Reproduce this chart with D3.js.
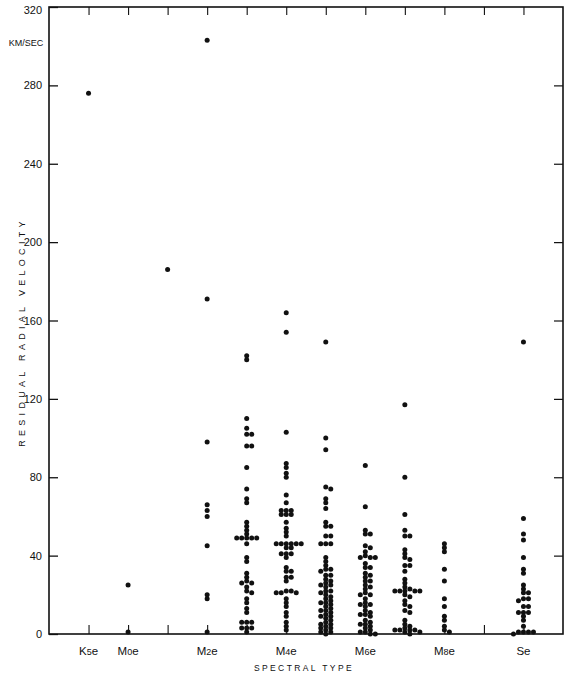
<!DOCTYPE html>
<html>
<head>
<meta charset="utf-8">
<script src="https://cdn.jsdelivr.net/npm/d3@7"></script>
<style>
  body { margin: 0; background: #fff; }
  text { font-family: 'Liberation Sans', Arial, sans-serif; fill: #111; }
</style>
</head>
<body>
<div id="chart"></div>
<script>
// spectral type slots along the x axis, blank label = unlabeled slot
var types = ['K5e', 'M0e', 'M1e', 'M2e', 'M3e', 'M4e', 'M5e', 'M6e', 'M7e', 'M8e', 'M9e', 'Se'];
var typeLabels = ['K|5|e', 'M|0|e', '', 'M|2|e', '', 'M|4|e', '', 'M|6|e', '', 'M|8|e', '', 'Se'];
var yTicks = [0, 40, 80, 120, 160, 200, 240, 280, 320];

// residual radial velocities (km/sec), one value per star
var k5e = [276];
var m0e = [25, 1];
var m1e = [186];
var m2e = [303, 171, 98, 66, 63, 60, 45, 20, 18, 1];
var m3e = [142, 140, 110, 105, 102, 102, 96, 96, 85, 74, 69, 67, 57, 55, 53, 51,
  49, 49, 49, 49, 49, 46, 39, 37, 31, 29, 27, 26, 26, 24, 22, 21, 18, 16, 13, 11,
  6, 6, 6, 3, 3, 3, 1];
var m4e = [164, 154, 103, 87, 85, 82, 80, 71, 67, 63, 63, 63, 61, 61, 61, 57, 54,
  52, 50, 46, 46, 46, 46, 46, 46, 44, 44, 41, 41, 41, 39, 34, 32, 32, 29, 29, 27,
  22, 22, 21, 21, 21, 18, 16, 14, 11, 9, 6, 4, 2];
var m5e = [149, 100, 94, 75, 74, 69, 67, 64, 57, 55, 55, 50, 50, 46, 46, 46,
  39, 37, 35, 33, 33, 32, 30, 30, 28, 27, 26, 25, 25, 24, 22, 22, 21, 20, 19, 18,
  17, 16, 16, 15, 14, 13, 12, 12, 11, 10, 9, 9, 8, 7, 6, 5, 5, 4, 3, 3, 2, 1, 1, 0];
var m6e = [86, 65, 53, 51, 51, 45, 44, 42, 40, 39, 39, 39, 36, 34, 34, 31, 30, 29,
  27, 27, 25, 24, 23, 21, 20, 20, 18, 16, 15, 15, 14, 12, 11, 10, 10, 9, 7, 6, 5,
  5, 4, 3, 2, 1, 1, 0, 0];
var m7e = [117, 80, 61, 53, 50, 50, 43, 41, 39, 38, 35, 35, 32, 28, 26, 24, 23, 22,
  22, 22, 22, 22, 20, 19, 17, 15, 14, 12, 11, 7, 5, 4, 3, 2, 2, 2, 2, 1, 1, 0];
var m8e = [46, 44, 42, 33, 27, 18, 14, 9, 7, 4, 2, 1];
var m9e = [];
var se = [149, 59, 51, 48, 39, 33, 31, 25, 23, 21, 21, 18, 18, 17, 14, 14, 11, 11,
  11, 9, 7, 4, 1, 1, 1, 1, 0];

var columns = [k5e, m0e, m1e, m2e, m3e, m4e, m5e, m6e, m7e, m8e, m9e, se];

var W = 570, H = 679;
var frame = {left: 49, right: 563, top: 7, bottom: 634};
var r = 2.5;

var svg = d3.select('#chart')
    .append('svg')
    .attr('width', W)
    .attr('height', H);

var xScale = d3.scaleLinear().domain([-1, types.length]).range([frame.left, frame.right]);
var yScale = d3.scaleLinear().domain([0, 320]).range([frame.bottom, frame.top]);

// frame
svg.append('rect')
  .attr('x', frame.left)
  .attr('y', frame.top)
  .attr('width', frame.right - frame.left)
  .attr('height', frame.bottom - frame.top)
  .attr('fill', 'none')
  .attr('stroke', '#111')
  .attr('stroke-width', 1.6);

// left axis, ticks pointing in
var yAxis = d3.axisLeft(yScale).tickValues(yTicks).tickSize(-9).tickPadding(7);
var gy = svg.append('g')
  .attr('transform', 'translate(' + frame.left + ',0)')
  .call(yAxis);
gy.select('.domain').remove();
gy.selectAll('line').attr('stroke', '#111').attr('stroke-width', 1.3);
gy.selectAll('text').style('font-size', '11px').style('font-family', "'Liberation Sans', Arial, sans-serif");
gy.select('.tick:last-of-type text').attr('dy', '0.6em');

// right side ticks
var gyr = svg.append('g')
  .attr('transform', 'translate(' + frame.right + ',0)')
  .call(d3.axisRight(yScale).tickValues(yTicks.slice(1, -1)).tickSize(-9).tickFormat(''));
gyr.select('.domain').remove();
gyr.selectAll('line').attr('stroke', '#111').attr('stroke-width', 1.2);

// bottom and top ticks at each spectral slot
var idx = d3.range(types.length);
var gx = svg.append('g')
  .attr('transform', 'translate(0,' + frame.bottom + ')')
  .call(d3.axisBottom(xScale).tickValues(idx).tickSize(-9).tickFormat(''));
gx.select('.domain').remove();
gx.selectAll('line').attr('stroke', '#111').attr('stroke-width', 1.1);

var gxt = svg.append('g')
  .attr('transform', 'translate(0,' + frame.top + ')')
  .call(d3.axisTop(xScale).tickValues(idx).tickSize(-8).tickFormat(''));
gxt.select('.domain').remove();
gxt.selectAll('line').attr('stroke', '#111').attr('stroke-width', 1.1);

// category labels, digit drawn small like the original lettering
idx.forEach(function(i) {
  var lab = typeLabels[i];
  if (!lab) return;
  var parts = lab.split('|');
  var t = svg.append('text')
    .attr('x', xScale(i))
    .attr('y', 655)
    .attr('text-anchor', 'middle')
    .style('font-size', '11.5px');
  t.append('tspan').text(parts[0]);
  if (parts.length > 1) {
    t.append('tspan').style('font-size', '9px').text(parts[1]);
    t.append('tspan').text(parts[2]);
  }
});

svg.append('text')
  .text('SPECTRAL TYPE')
  .attr('x', 304)
  .attr('y', 671)
  .attr('text-anchor', 'middle')
  .style('font-size', '8.5px')
  .style('letter-spacing', '2.4px');

svg.append('text')
  .text('RESIDUAL RADIAL VELOCITY')
  .attr('transform', 'translate(25,332) rotate(-90)')
  .attr('text-anchor', 'middle')
  .style('font-size', '9px')
  .style('letter-spacing', '4.3px');

svg.append('text')
  .text('KM/SEC')
  .attr('x', 26)
  .attr('y', 46)
  .attr('text-anchor', 'middle')
  .style('font-size', '9px');

// dots: stack sideways when they would sit on top of each other
var points = [];
columns.forEach(function(vals, i) {
  var placed = [];
  vals.slice().sort(function(a, b) {return b - a;}).forEach(function(v) {
    var cy = yScale(v);
    var offs = [0], k;
    for (k = 1; k < 8; k++) { offs.push(k, -k); }
    for (k = 0; k < offs.length; k++) {
      var dx = offs[k] * 2 * r;
      var clash = placed.some(function(p) {
        return Math.abs(p.dx - dx) < 2 * r - 0.1 && Math.abs(p.cy - cy) < 3.6;
      });
      if (!clash) break;
    }
    var p = {dx: offs[k] * 2 * r, cy: cy};
    placed.push(p);
    points.push({cx: xScale(i) + p.dx, cy: cy});
  });
});

svg.append('g')
  .selectAll('circle')
  .data(points)
  .enter()
  .append('circle')
  .attr('cx', function(d) {return d.cx;})
  .attr('cy', function(d) {return d.cy;})
  .attr('r', r)
  .attr('fill', '#111');
</script>
</body>
</html>
